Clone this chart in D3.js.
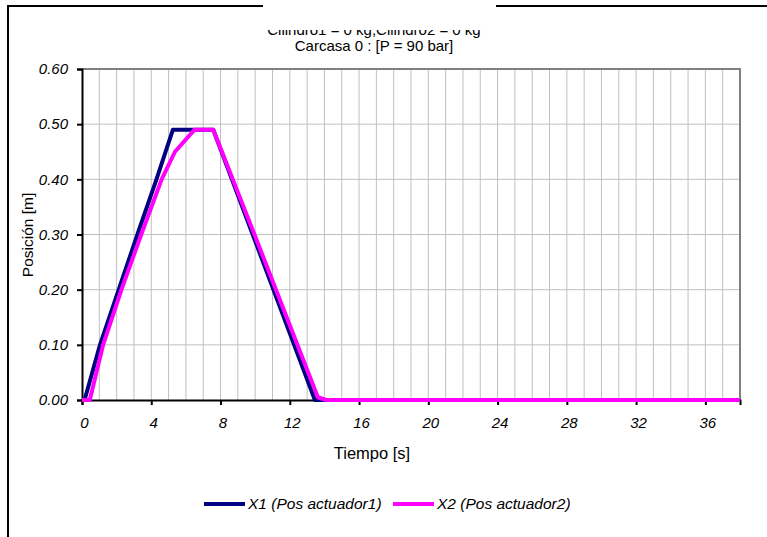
<!DOCTYPE html>
<html><head><meta charset="utf-8">
<script src="https://cdn.jsdelivr.net/npm/d3@7"></script>
<style>body{margin:0;background:#fff}svg{display:block}text{font-family:"Liberation Sans",Arial,sans-serif}</style>
</head><body><svg id="c" width="767" height="537"></svg>
<script>
const titleLines = ["Cilindro1 = 0 kg,Cilindro2 = 0 kg", "Carcasa 0 : [P = 90 bar]"];
const xTicks = [0,4,8,12,16,20,24,28,32,36];
const yTicks = [0,0.1,0.2,0.3,0.4,0.5,0.6];
const seriesNames = ["X1 (Pos actuador1)", "X2 (Pos actuador2)"];
const seriesColors = ["#000080", "#ff00ff"];
const x1Time = [0, 0.15, 1.04, 2.12, 3.2, 4.3, 5.25, 7.58, 9.86, 13.45, 38];
const x1Pos  = [0, 0, 0.10, 0.20, 0.30, 0.40, 0.49, 0.49, 0.30, 0, 0];
const x2Time = [0, 0.45, 1.22, 2.28, 3.42, 4.6, 5.37, 6.5, 7.58, 9.96, 13.62, 14.1, 38];
const x2Pos  = [0, 0, 0.10, 0.20, 0.30, 0.40, 0.45, 0.49, 0.49, 0.30, 0.005, 0, 0];

const svg = d3.select("#c");
const L = 82, R = 740, T = 69, B = 400;
const x = d3.scaleLinear().domain([0,38]).range([L,R]);
const y = d3.scaleLinear().domain([0,0.6]).range([B,T]);

// outer frame
svg.append("path").attr("d","M8,537 V6 H767").attr("fill","none").attr("stroke","#000").attr("stroke-width",2);

// title
svg.append("text").attr("x",374).attr("y",35).attr("text-anchor","middle").attr("font-size",15).text(titleLines[0]);
svg.append("rect").attr("x",263).attr("y",0).attr("width",233).attr("height",30).attr("fill","#fff");
svg.append("text").attr("x",374).attr("y",51).attr("text-anchor","middle").attr("font-size",15).text(titleLines[1]);

// grid
const g = svg.append("g");
g.selectAll(".vg").data(d3.range(1,39)).join("line")
  .attr("x1",d=>x(d)).attr("x2",d=>x(d)).attr("y1",T).attr("y2",B).attr("stroke","#c0c0c0").attr("stroke-width",1);
g.selectAll(".hg").data(yTicks.slice(1)).join("line")
  .attr("x1",L).attr("x2",R).attr("y1",d=>y(d)).attr("y2",d=>y(d)).attr("stroke","#c0c0c0").attr("stroke-width",1);
svg.append("path").attr("d",`M${L},${T} H${R} V${B}`).attr("fill","none").attr("stroke","#808080").attr("stroke-width",2);

// axes
const xa = svg.append("g").attr("transform",`translate(0,${B})`)
  .call(d3.axisBottom(x).tickValues(xTicks).tickSize(5).tickPadding(12).tickFormat(d3.format("d")));
const ya = svg.append("g").attr("transform",`translate(${L},0)`)
  .call(d3.axisLeft(y).tickValues(yTicks).tickSize(5).tickPadding(9).tickFormat(d3.format(".2f")));
[xa,ya].forEach(a=>{
  a.select(".domain").attr("stroke","#000").attr("stroke-width",2);
  a.selectAll(".tick line").attr("stroke","#000").attr("stroke-width",2);
  a.selectAll("text").attr("font-size",15).attr("font-style","italic").attr("fill","#000")
   .attr("font-family","\"Liberation Sans\",Arial,sans-serif");
});
xa.selectAll("text").attr("dx",2);

// lines
const line = d3.line().x(d=>x(d[0])).y(d=>y(d[1]));
const s1 = x1Time.map((t,i)=>[t,x1Pos[i]]);
const s2 = x2Time.map((t,i)=>[t,x2Pos[i]]);
[s1,s2].forEach((s,i)=>{
  svg.append("path").datum(s).attr("d",line).attr("fill","none")
    .attr("stroke",seriesColors[i]).attr("stroke-width",4).attr("stroke-linejoin","round");
});

// axis titles
svg.append("text").attr("x",372).attr("y",459).attr("text-anchor","middle").attr("font-size",16.5).text("Tiempo [s]");
svg.append("text").attr("transform","translate(33,235) rotate(-90)").attr("text-anchor","middle").attr("font-size",15.5).text("Posición [m]");

// legend
const lg = [{x:204,tx:248},{x:393,tx:437}];
lg.forEach((p,i)=>{
  svg.append("line").attr("x1",p.x).attr("x2",p.x+41).attr("y1",504).attr("y2",504)
    .attr("stroke",seriesColors[i]).attr("stroke-width",4);
  svg.append("text").attr("x",p.tx).attr("y",509).attr("font-size",15.5).attr("font-style","italic").text(seriesNames[i]);
});
</script></body></html>
